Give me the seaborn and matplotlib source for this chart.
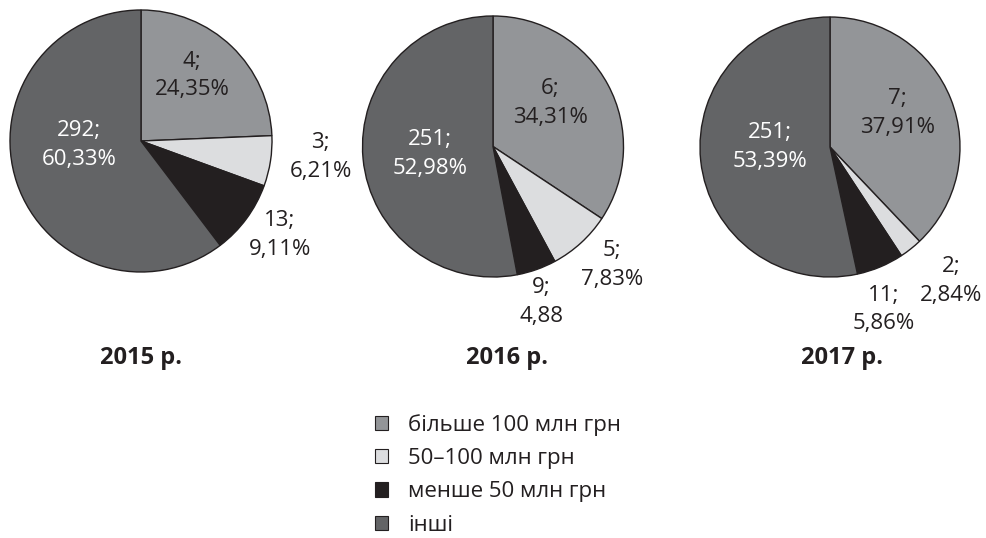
import matplotlib
matplotlib.use("Agg")
import matplotlib.pyplot as plt
from matplotlib.patches import Patch
import seaborn as sns

# data
categories = ["більше 100 млн грн", "50–100 млн грн", "менше 50 млн грн", "інші"]
years = ["2015 р.", "2016 р.", "2017 р."]
counts_2015 = [4, 3, 13, 292]
counts_2016 = [6, 5, 9, 251]
counts_2017 = [7, 2, 11, 251]
shares_2015 = [24.35, 6.21, 9.11, 60.33]
shares_2016 = [34.31, 7.83, 4.88, 52.98]
shares_2017 = [37.91, 2.84, 5.86, 53.39]
# the 9 label in 2016 has no % sign in the original
pct_suffix_2016 = ["%", "%", "", "%"]

counts = [counts_2015, counts_2016, counts_2017]
shares = [shares_2015, shares_2016, shares_2017]
suffixes = [["%"] * 4, pct_suffix_2016, ["%"] * 4]

colors = ["#939598", "#dcdddf", "#231f20", "#636466"]
text_colors = ["#231f20", "#231f20", "#231f20", "#ffffff"]
edge = "#231f20"

# layout (pixels): pie centres and radii, label positions in pie units
W, H = 987, 538
pies = [(141, 141, 131), (493, 146.5, 130.5), (830, 147, 130)]
label_pos = [
    [(0.39, 0.50), (1.37, -0.12), (1.06, -0.72), (-0.47, -0.03)],
    [(0.44, 0.33), (0.91, -0.91), (0.37, -1.19), (-0.48, -0.06)],
    [(0.52, 0.26), (0.93, -1.03), (0.41, -1.25), (-0.46, 0.0)],
]
inside = [True, False, False, True]
year_x = [141, 507, 842]

sns.set_style("white")
plt.rcParams["font.family"] = ["Open Sans", "DejaVu Sans"]

fig = plt.figure(figsize=(W / 100, H / 100), dpi=100)

for i in range(3):
    cx, cy, r = pies[i]
    ax = fig.add_axes([(cx - r) / W, 1 - (cy + r) / H, 2 * r / W, 2 * r / H])
    ax.pie(shares[i], colors=colors, startangle=90, counterclock=False,
           wedgeprops=dict(edgecolor=edge, linewidth=1.0))
    ax.set_xlim(-1, 1)
    ax.set_ylim(-1, 1)
    ax.set_aspect("auto")
    ax.axis("off")
    for j in range(4):
        txt = f"{counts[i][j]};\n" + f"{shares[i][j]:.2f}".replace(".", ",") + suffixes[i][j]
        c = text_colors[j] if inside[j] else "#231f20"
        ax.text(label_pos[i][j][0], label_pos[i][j][1], txt, ha="center", va="center",
                color=c, fontsize=16, linespacing=1.5, clip_on=False)
    fig.text(year_x[i] / W, 1 - 358 / H, years[i], ha="center", va="center",
             fontsize=17, fontweight="bold", color="#231f20")

handles = [Patch(facecolor=colors[k], edgecolor=edge, linewidth=0.8) for k in range(4)]
fig.legend(handles, categories, loc="upper left", bbox_to_anchor=(375 / W, 1 - 414 / H),
           frameon=False, fontsize=16, handlelength=0.6, handleheight=0.6,
           handletextpad=0.9, labelspacing=0.55, borderaxespad=0, borderpad=0,
           labelcolor="#231f20")

fig.savefig("out.png", dpi=100)
